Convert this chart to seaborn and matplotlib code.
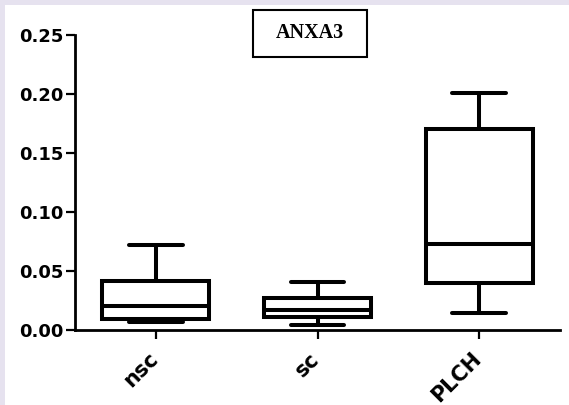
import numpy as np
import pandas as pd
import matplotlib
matplotlib.use("Agg")
import matplotlib.pyplot as plt
import matplotlib.transforms as mtransforms
from matplotlib.patches import Rectangle
import seaborn as sns

# Five-number summaries (min, Q1, median, Q3, max)
groups = ["nsc", "sc", "PLCH"]
nsc_vals = [0.0070, 0.0093, 0.0203, 0.0412, 0.0720]
sc_vals = [0.0042, 0.0113, 0.0172, 0.0270, 0.0404]
plch_vals = [0.0142, 0.0396, 0.0729, 0.1700, 0.2006]
y_ticks = [0.00, 0.05, 0.10, 0.15, 0.20, 0.25]
title_text = "ANXA3"

df = pd.DataFrame({
    "group": [groups[0]] * len(nsc_vals) + [groups[1]] * len(sc_vals) + [groups[2]] * len(plch_vals),
    "value": nsc_vals + sc_vals + plch_vals,
})

sns.set_style("ticks")
plt.rcParams["font.family"] = ["DejaVu Sans"]
plt.rcParams["text.color"] = "black"
plt.rcParams["xtick.color"] = "black"
plt.rcParams["ytick.color"] = "black"
plt.rcParams["axes.labelcolor"] = "black"

W, H = 569, 405
fig = plt.figure(figsize=(W / 100, H / 100), dpi=100, facecolor="#e6e2ef")
fig.patches.append(Rectangle((5 / W, 0), 1 - 5 / W, 1 - 5 / H, transform=fig.transFigure,
                             facecolor="white", edgecolor="none", zorder=-10))

ax = fig.add_axes([75 / W, 1 - 330 / H, (560 - 75) / W, (330 - 35) / H])
ax.set_facecolor("none")
ax.set_zorder(1)

lw = 2.9
sns.boxplot(data=df, x="group", y="value", order=groups, ax=ax,
            whis=(0, 100), width=0.66, color="white", linecolor="black",
            linewidth=lw, fliersize=0,
            boxprops=dict(facecolor="white", edgecolor="black", linewidth=lw),
            whiskerprops=dict(linewidth=lw, color="black"),
            capprops=dict(linewidth=lw, color="black", solid_capstyle="round"),
            medianprops=dict(linewidth=lw, color="black"))

ax.set_xlim(-0.5, 2.5)
ax.set_ylim(0, 0.25)
ax.set_yticks(y_ticks)
ax.set_yticklabels([f"{v:.2f}" for v in y_ticks], fontsize=13, fontweight="bold", color="black")
ax.set_xlabel("")
ax.set_ylabel("")
for s in ["top", "right"]:
    ax.spines[s].set_visible(False)
for s in ["left", "bottom"]:
    ax.spines[s].set_linewidth(2.0)
    ax.spines[s].set_color("black")
ax.tick_params(axis="both", direction="out", length=6.5, width=1.6, color="black", labelcolor="black")
ax.tick_params(axis="y", pad=2)
ax.tick_params(axis="x", pad=7)
shift = mtransforms.ScaledTranslation(-8 / 100, 0, fig.dpi_scale_trans)
for lab in ax.get_xticklabels():
    lab.set_rotation(45)
    lab.set_ha("right")
    lab.set_va("top")
    lab.set_rotation_mode("anchor")
    lab.set_fontsize(15)
    lab.set_fontweight("bold")
    lab.set_color("black")
    lab.set_transform(lab.get_transform() + shift)

# Title box
fig.patches.append(Rectangle((253 / W, 1 - 57 / H), 114 / W, 47 / H, transform=fig.transFigure,
                             facecolor="white", edgecolor="black", linewidth=1.5, zorder=3))
fig.text(310 / W, 1 - 33.5 / H, title_text, ha="center", va="center", color="black",
         fontsize=14.5, fontweight="bold", family=["Liberation Serif"], zorder=4)

fig.savefig("out.png", dpi=100, facecolor=fig.get_facecolor())
